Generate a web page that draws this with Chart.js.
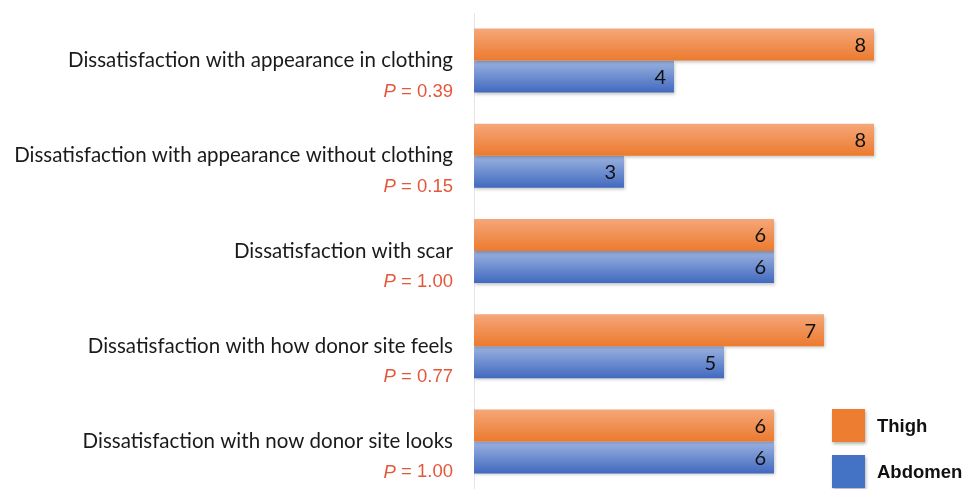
<!DOCTYPE html>
<html>
<head>
<meta charset="utf-8">
<script src="https://cdn.jsdelivr.net/npm/chart.js@4.4.1/dist/chart.umd.min.js"></script>
<style>
  html, body { margin: 0; padding: 0; background: #fff; }
  #wrap { width: 970px; height: 489px; position: relative; }
</style>
</head>
<body>
<div id="wrap"><canvas id="graphique"></canvas></div>
<script>
const categories = [
  "Dissatisfaction with appearance in clothing",
  "Dissatisfaction with appearance without clothing",
  "Dissatisfaction with scar",
  "Dissatisfaction with how donor site feels",
  "Dissatisfaction with now donor site looks"
];
const pValues = ["0.39", "0.15", "1.00", "0.77", "1.00"];
const thigh = [8, 8, 6, 7, 6];
const abdomen = [4, 3, 6, 5, 6];
const seriesNames = ["Thigh", "Abdomen"];

const CAT_PCT = 0.672;
const colors = [
  { top: "#f5a77a", bottom: "#ec7a2e", flat: "#ed7d31" },
  { top: "#9cb3e0", bottom: "#4169bf", flat: "#4472c4" }
];

// gradient haut clair -> bas foncé pour chaque barre
function barGradient(context) {
  const chart = context.chart;
  const yScale = chart.scales.y;
  const c = colors[context.datasetIndex];
  if (!yScale || context.dataIndex === undefined) return c.flat;
  const center = yScale.getPixelForValue(context.dataIndex);
  const band = yScale.height / categories.length;
  if (!Number.isFinite(center) || !Number.isFinite(band) || band <= 0) return c.flat;
  const h = band * CAT_PCT / 2;
  const top = context.datasetIndex === 0 ? center - h : center;
  const g = chart.ctx.createLinearGradient(0, top, 0, top + h);
  g.addColorStop(0, c.top);
  g.addColorStop(1, c.bottom);
  return g;
}

const barStyle = {
  id: 'barStyle',
  beforeDatasetsDraw(chart) {
    const ctx = chart.ctx;
    ctx.save();
    ctx.shadowColor = 'rgba(0,0,0,0.22)';
    ctx.shadowBlur = 3;
    ctx.shadowOffsetX = 1;
    ctx.shadowOffsetY = 2;
  },
  afterDatasetsDraw(chart) {
    const ctx = chart.ctx;
    ctx.restore();
    // valeurs au bout des barres
    ctx.save();
    ctx.font = '20px Lato';
    ctx.fillStyle = '#111';
    ctx.textAlign = 'right';
    ctx.textBaseline = 'middle';
    chart.data.datasets.forEach((ds, di) => {
      chart.getDatasetMeta(di).data.forEach((bar, i) => {
        ctx.fillText(String(ds.data[i]), bar.x - 8, bar.y + 1);
      });
    });
    ctx.restore();
  }
};

const categoryLabels = {
  id: 'categoryLabels',
  afterDraw(chart) {
    const ctx = chart.ctx;
    const yScale = chart.scales.y;
    const right = yScale.right - 21;
    ctx.save();
    ctx.textBaseline = 'middle';
    categories.forEach((label, i) => {
      const y = yScale.getPixelForValue(i);
      ctx.textAlign = 'right';
      ctx.font = '20.5px Lato';
      ctx.fillStyle = '#1a1a1a';
      ctx.fillText(label, right, y);

      const rest = ' = ' + pValues[i];
      ctx.font = '18.5px "Liberation Sans"';
      ctx.fillStyle = '#e5573a';
      ctx.fillText(rest, right, y + 31);
      const w = ctx.measureText(rest).width;
      ctx.font = 'italic 18.5px "Liberation Sans"';
      ctx.fillText('P', right - w, y + 31);
    });
    ctx.restore();
  }
};

const cornerLegend = {
  id: 'cornerLegend',
  afterDraw(chart) {
    const ctx = chart.ctx;
    const x = 832, ys = [409, 455], size = 33;
    ctx.save();
    seriesNames.forEach((name, i) => {
      ctx.save();
      ctx.shadowColor = 'rgba(0,0,0,0.3)';
      ctx.shadowBlur = 3;
      ctx.shadowOffsetX = 1;
      ctx.shadowOffsetY = 2;
      ctx.fillStyle = colors[i].flat;
      ctx.fillRect(x, ys[i], size, size);
      ctx.restore();
      ctx.font = 'bold 18.5px "Liberation Sans"';
      ctx.fillStyle = '#111';
      ctx.textAlign = 'left';
      ctx.textBaseline = 'middle';
      ctx.fillText(name, x + 45, ys[i] + size / 2 + 1);
    });
    ctx.restore();
  }
};

const ctx = document.getElementById('graphique').getContext('2d');

new Chart(ctx, {
  type: 'bar',
  data: {
    labels: categories,
    datasets: [
      { label: seriesNames[0], data: thigh, backgroundColor: barGradient, borderWidth: 0 },
      { label: seriesNames[1], data: abdomen, backgroundColor: barGradient, borderWidth: 0 }
    ]
  },
  options: {
    indexAxis: 'y',
    responsive: true,
    maintainAspectRatio: false,
    animation: false,
    layout: { padding: { top: 13, right: 1, bottom: 0, left: 0 } },
    datasets: { bar: { barPercentage: 1, categoryPercentage: CAT_PCT } },
    plugins: {
      legend: { display: false },
      tooltip: { enabled: false }
    },
    scales: {
      x: {
        display: false,
        min: 0,
        max: 9.9
      },
      y: {
        grid: { display: false },
        border: { display: true, color: '#e4e4e4', width: 1 },
        ticks: { display: false },
        afterFit(scale) { scale.width = 474; }
      }
    }
  },
  plugins: [barStyle, categoryLabels, cornerLegend]
});
</script>
</body>
</html>
